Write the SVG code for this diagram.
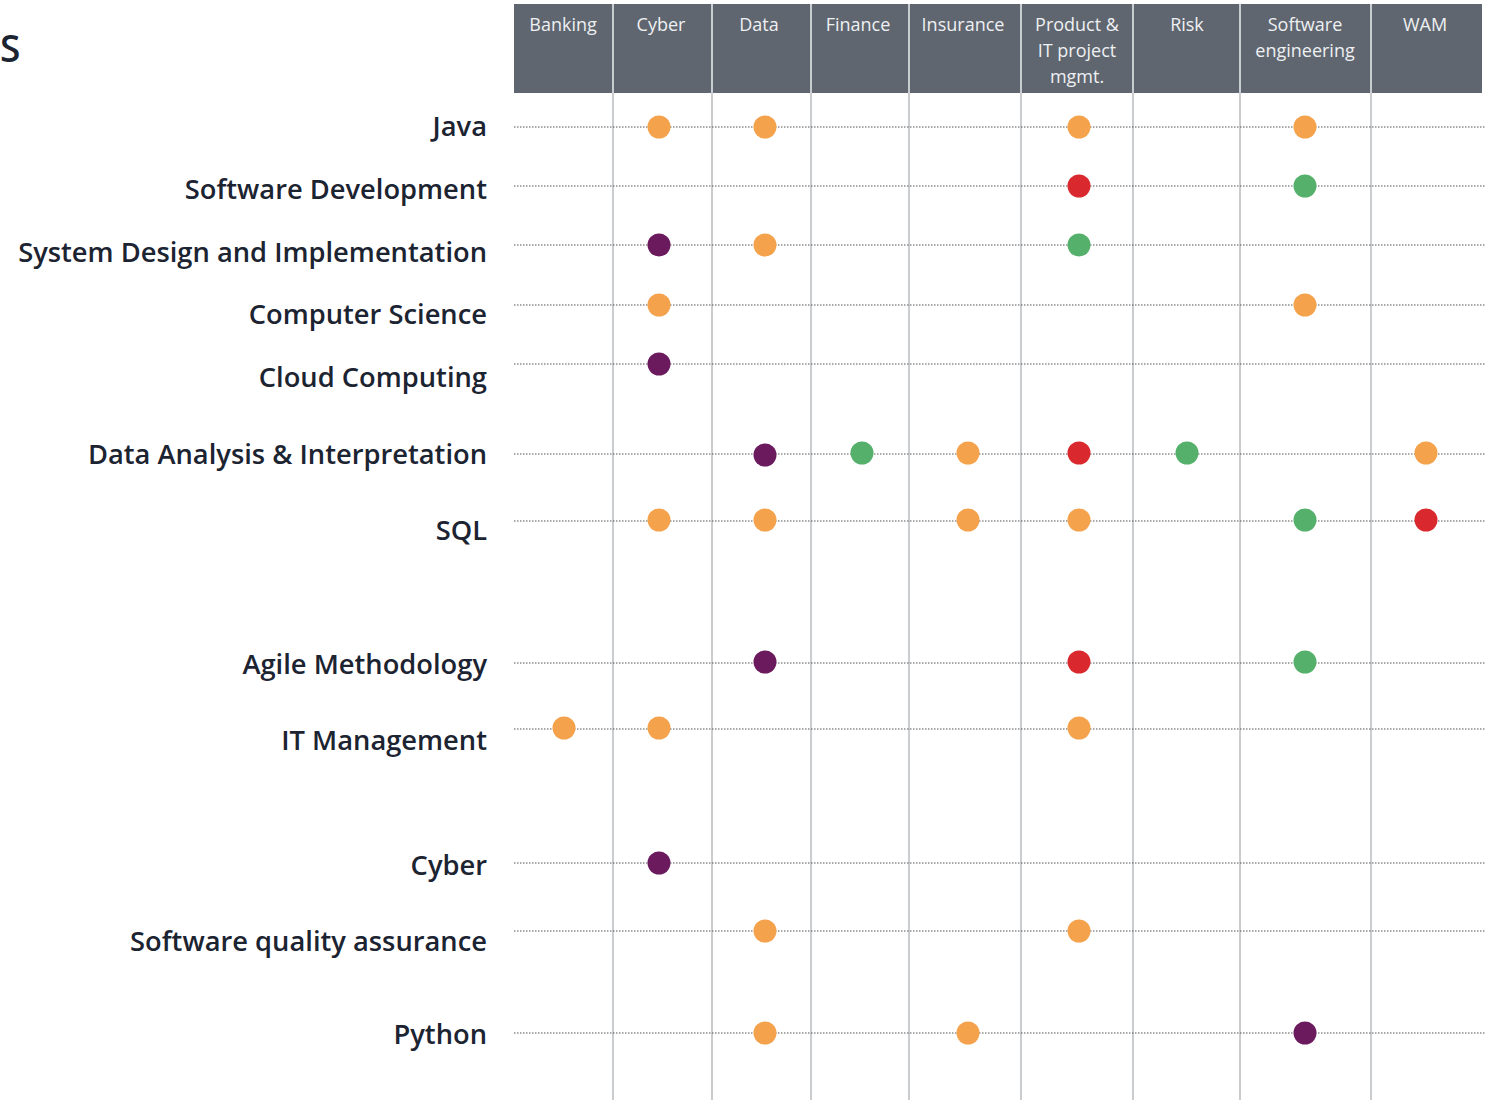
<svg xmlns="http://www.w3.org/2000/svg" width="1495" height="1100" viewBox="0 0 1495 1100">
<style>
.lbl{font-family:"Open Sans","Noto Sans","Liberation Sans",sans-serif;font-size:27.3px;font-weight:600;fill:#1c2331;text-anchor:end}
.hdr{font-family:"Open Sans","Noto Sans","Liberation Sans",sans-serif;font-size:18px;font-weight:500;fill:#eef0f2;text-anchor:middle}
.row{stroke:#555;stroke-width:1;stroke-dasharray:1.5 1.5;fill:none}
.col{stroke:#c9cdd0;stroke-width:2;fill:none}
.o{fill:#f4a24c}.p{fill:#6b1a5e}.g{fill:#55b06b}.r{fill:#d9292e}
</style>
<rect width="1495" height="1100" fill="#ffffff"/>
<text x="0" y="62" style="font-family:'Open Sans','Noto Sans',sans-serif;font-size:37px;font-weight:600;fill:#1c2331">S</text>
<g id="header">
<rect x="514" y="4" width="968" height="89" fill="#5f6670"/>
<text class="hdr" x="563" y="31">Banking</text>
<text class="hdr" x="661" y="31">Cyber</text>
<text class="hdr" x="759" y="31">Data</text>
<text class="hdr" x="858" y="31">Finance</text>
<text class="hdr" x="963" y="31">Insurance</text>
<text class="hdr" x="1077" y="31">Product &amp;</text>
<text class="hdr" x="1077" y="57">IT project</text>
<text class="hdr" x="1077" y="83">mgmt.</text>
<text class="hdr" x="1187" y="31">Risk</text>
<text class="hdr" x="1305" y="31">Software</text>
<text class="hdr" x="1305" y="57">engineering</text>
<text class="hdr" x="1425" y="31">WAM</text>
</g>
<g id="columns">
<path class="col" d="M613 4V1100M712 4V1100M811 4V1100M909 4V1100M1021 4V1100M1133 4V1100M1240 4V1100M1371 4V1100"/>
</g>
<g id="connectors">
<path class="row" d="M514 127H1486M514 186H1486M514 245H1486M514 305H1486M514 364H1486M514 454H1486M514 521H1486M514 663H1486M514 729H1486M514 863H1486M514 931H1486M514 1033H1486"/>
</g>
<g id="labels">
<text class="lbl" x="487" y="136">Java</text>
<text class="lbl" x="487" y="199">Software Development</text>
<text class="lbl" x="487" y="262">System Design and Implementation</text>
<text class="lbl" x="487" y="324">Computer Science</text>
<text class="lbl" x="487" y="387">Cloud Computing</text>
<text class="lbl" x="487" y="464">Data Analysis &amp; Interpretation</text>
<text class="lbl" x="487" y="540">SQL</text>
<text class="lbl" x="487" y="674">Agile Methodology</text>
<text class="lbl" x="487" y="750">IT Management</text>
<text class="lbl" x="487" y="875">Cyber</text>
<text class="lbl" x="487" y="951">Software quality assurance</text>
<text class="lbl" x="487" y="1044">Python</text>
</g>
<g id="dots">
<circle class="o" cx="659" cy="127" r="11.5"/><circle class="o" cx="765" cy="127" r="11.5"/><circle class="o" cx="1079" cy="127" r="11.5"/><circle class="o" cx="1305" cy="127" r="11.5"/>
<circle class="r" cx="1079" cy="186" r="11.5"/><circle class="g" cx="1305" cy="186" r="11.5"/>
<circle class="p" cx="659" cy="245" r="11.5"/><circle class="o" cx="765" cy="245" r="11.5"/><circle class="g" cx="1079" cy="245" r="11.5"/>
<circle class="o" cx="659" cy="305" r="11.5"/><circle class="o" cx="1305" cy="305" r="11.5"/>
<circle class="p" cx="659" cy="364" r="11.5"/>
<circle class="p" cx="765" cy="455" r="11.5"/><circle class="g" cx="862" cy="453" r="11.5"/><circle class="o" cx="968" cy="453" r="11.5"/><circle class="r" cx="1079" cy="453" r="11.5"/><circle class="g" cx="1187" cy="453" r="11.5"/><circle class="o" cx="1426" cy="453" r="11.5"/>
<circle class="o" cx="659" cy="520" r="11.5"/><circle class="o" cx="765" cy="520" r="11.5"/><circle class="o" cx="968" cy="520" r="11.5"/><circle class="o" cx="1079" cy="520" r="11.5"/><circle class="g" cx="1305" cy="520" r="11.5"/><circle class="r" cx="1426" cy="520" r="11.5"/>
<circle class="p" cx="765" cy="662" r="11.5"/><circle class="r" cx="1079" cy="662" r="11.5"/><circle class="g" cx="1305" cy="662" r="11.5"/>
<circle class="o" cx="564" cy="728" r="11.5"/><circle class="o" cx="659" cy="728" r="11.5"/><circle class="o" cx="1079" cy="728" r="11.5"/>
<circle class="p" cx="659" cy="863" r="11.5"/>
<circle class="o" cx="765" cy="931" r="11.5"/><circle class="o" cx="1079" cy="931" r="11.5"/>
<circle class="o" cx="765" cy="1033" r="11.5"/><circle class="o" cx="968" cy="1033" r="11.5"/><circle class="p" cx="1305" cy="1033" r="11.5"/>
</g>
</svg>
